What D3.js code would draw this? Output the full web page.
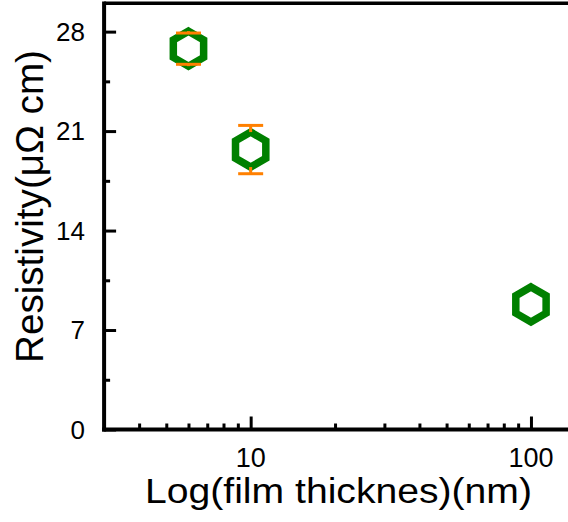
<!DOCTYPE html>
<html>
<head>
<meta charset="utf-8">
<script src="https://cdn.jsdelivr.net/npm/d3@7"></script>
<style>
  html, body { margin: 0; padding: 0; background: #fff; }
  svg { display: block; }
  text { font-family: "Liberation Sans", Arial, sans-serif; fill: #000; }
</style>
</head>
<body>
<svg id="chart" width="568" height="522"></svg>
<script>
// Data
const thickness = [6, 10, 100];
const resistivity = [26.8, 19.7, 8.8];
const errors = [1.1, 1.7, 0];
const yTickValues = [0, 7, 14, 21, 28];
const yMinorTicks = [3.5, 10.5, 17.5, 24.5];
const xTickValues = [10, 100];
const xMinorTicks = [4, 5, 6, 7, 8, 9, 20, 30, 40, 50, 60, 70, 80, 90];
const xTitle = "Log(film thicknes)(nm)";
const yTitle = "Resistivity(\u03BC\u03A9 cm)";

const svg = d3.select("#chart");
const W = 568, H = 522;

const x = d3.scaleLog().domain([3, 150]).range([104.1, 104.1 + Math.log10(50) * 280.3]);
const y = d3.scaleLinear().domain([0, 30]).range([429.5, 3.2]);

const green = "#008000";
const orange = "#ff8000";

// Frame: top border and axes
svg.append("line").attr("x1", x(3)).attr("x2", W).attr("y1", y(30)).attr("y2", y(30))
  .attr("stroke", "#000").attr("stroke-width", 3.5);

// Y axis
const yAxis = d3.axisRight(y).tickValues(yTickValues).tickSize(12).tickFormat("");
const gy = svg.append("g").attr("transform", `translate(${x(3)},0)`).call(yAxis);
gy.select(".domain").remove();
gy.selectAll(".tick line").attr("stroke", "#000").attr("stroke-width", 3);
const gyMinor = svg.append("g").attr("transform", `translate(${x(3)},0)`)
  .call(d3.axisRight(y).tickValues(yMinorTicks).tickSize(6).tickFormat(""));
gyMinor.select(".domain").remove();
gyMinor.selectAll(".tick line").attr("stroke", "#000").attr("stroke-width", 3);

svg.append("line").attr("x1", x(3)).attr("x2", x(3)).attr("y1", y(30) - 1.75).attr("y2", y(0) + 2)
  .attr("stroke", "#000").attr("stroke-width", 4);

// Y tick labels
svg.append("g").selectAll("text").data(yTickValues).join("text")
  .attr("x", 85).attr("y", d => y(d)).attr("dy", "0.36em")
  .attr("text-anchor", "end").attr("font-size", 26)
  .text(d => d);

// X axis
const xAxis = d3.axisTop(x).tickValues(xTickValues).tickSize(13).tickFormat("");
const gx = svg.append("g").attr("transform", `translate(0,${y(0)})`).call(xAxis);
gx.select(".domain").remove();
gx.selectAll(".tick line").attr("stroke", "#000").attr("stroke-width", 3);
const gxMinor = svg.append("g").attr("transform", `translate(0,${y(0)})`)
  .call(d3.axisTop(x).tickValues(xMinorTicks).tickSize(6).tickFormat(""));
gxMinor.select(".domain").remove();
gxMinor.selectAll(".tick line").attr("stroke", "#000").attr("stroke-width", 3);

svg.append("line").attr("x1", x(3) - 2).attr("x2", W).attr("y1", y(0)).attr("y2", y(0))
  .attr("stroke", "#000").attr("stroke-width", 4);

// X tick labels
svg.append("g").selectAll("text").data(xTickValues).join("text")
  .attr("x", d => x(d)).attr("y", 467)
  .attr("text-anchor", "middle").attr("font-size", 27)
  .text(d => d);

// Axis titles
svg.append("text").attr("x", 145).attr("y", 503)
  .attr("font-size", 35).attr("textLength", 387).attr("lengthAdjust", "spacingAndGlyphs")
  .text(xTitle);

svg.append("text").attr("transform", "translate(43,363) rotate(-90)")
  .attr("x", 0).attr("y", 0)
  .attr("font-size", 39).attr("textLength", 313).attr("lengthAdjust", "spacingAndGlyphs")
  .text(yTitle);

// Markers
const R = 17.5;
const hexPath = d3.range(6).map(i => {
  const a = -Math.PI / 2 + i * Math.PI / 3;
  return [R * Math.cos(a), R * Math.sin(a)];
});
const data = thickness.map((t, i) => ({ t, r: resistivity[i], e: errors[i] }));

svg.append("g").selectAll("path").data(data).join("path")
  .attr("transform", d => `translate(${x(d.t)},${y(d.r)})`)
  .attr("d", "M" + hexPath.map(p => p.join(",")).join("L") + "Z")
  .attr("fill", "#fff").attr("stroke", green).attr("stroke-width", 7.5)
  .attr("stroke-linejoin", "miter");

// Error bars (drawn from marker edge to the cap)
const eg = svg.append("g").selectAll("g").data(data.filter(d => d.e > 0)).join("g");
eg.append("line")
  .attr("x1", d => x(d.t)).attr("x2", d => x(d.t))
  .attr("y1", d => y(d.r + d.e)).attr("y2", d => y(d.r) - R)
  .attr("stroke", orange).attr("stroke-width", 3);
eg.append("line")
  .attr("x1", d => x(d.t)).attr("x2", d => x(d.t))
  .attr("y1", d => y(d.r - d.e)).attr("y2", d => y(d.r) + R)
  .attr("stroke", orange).attr("stroke-width", 3);
eg.append("line")
  .attr("x1", d => x(d.t) - 12.5).attr("x2", d => x(d.t) + 12.5)
  .attr("y1", d => y(d.r + d.e)).attr("y2", d => y(d.r + d.e))
  .attr("stroke", orange).attr("stroke-width", 3);
eg.append("line")
  .attr("x1", d => x(d.t) - 12.5).attr("x2", d => x(d.t) + 12.5)
  .attr("y1", d => y(d.r - d.e)).attr("y2", d => y(d.r - d.e))
  .attr("stroke", orange).attr("stroke-width", 3);
</script>
</body>
</html>
